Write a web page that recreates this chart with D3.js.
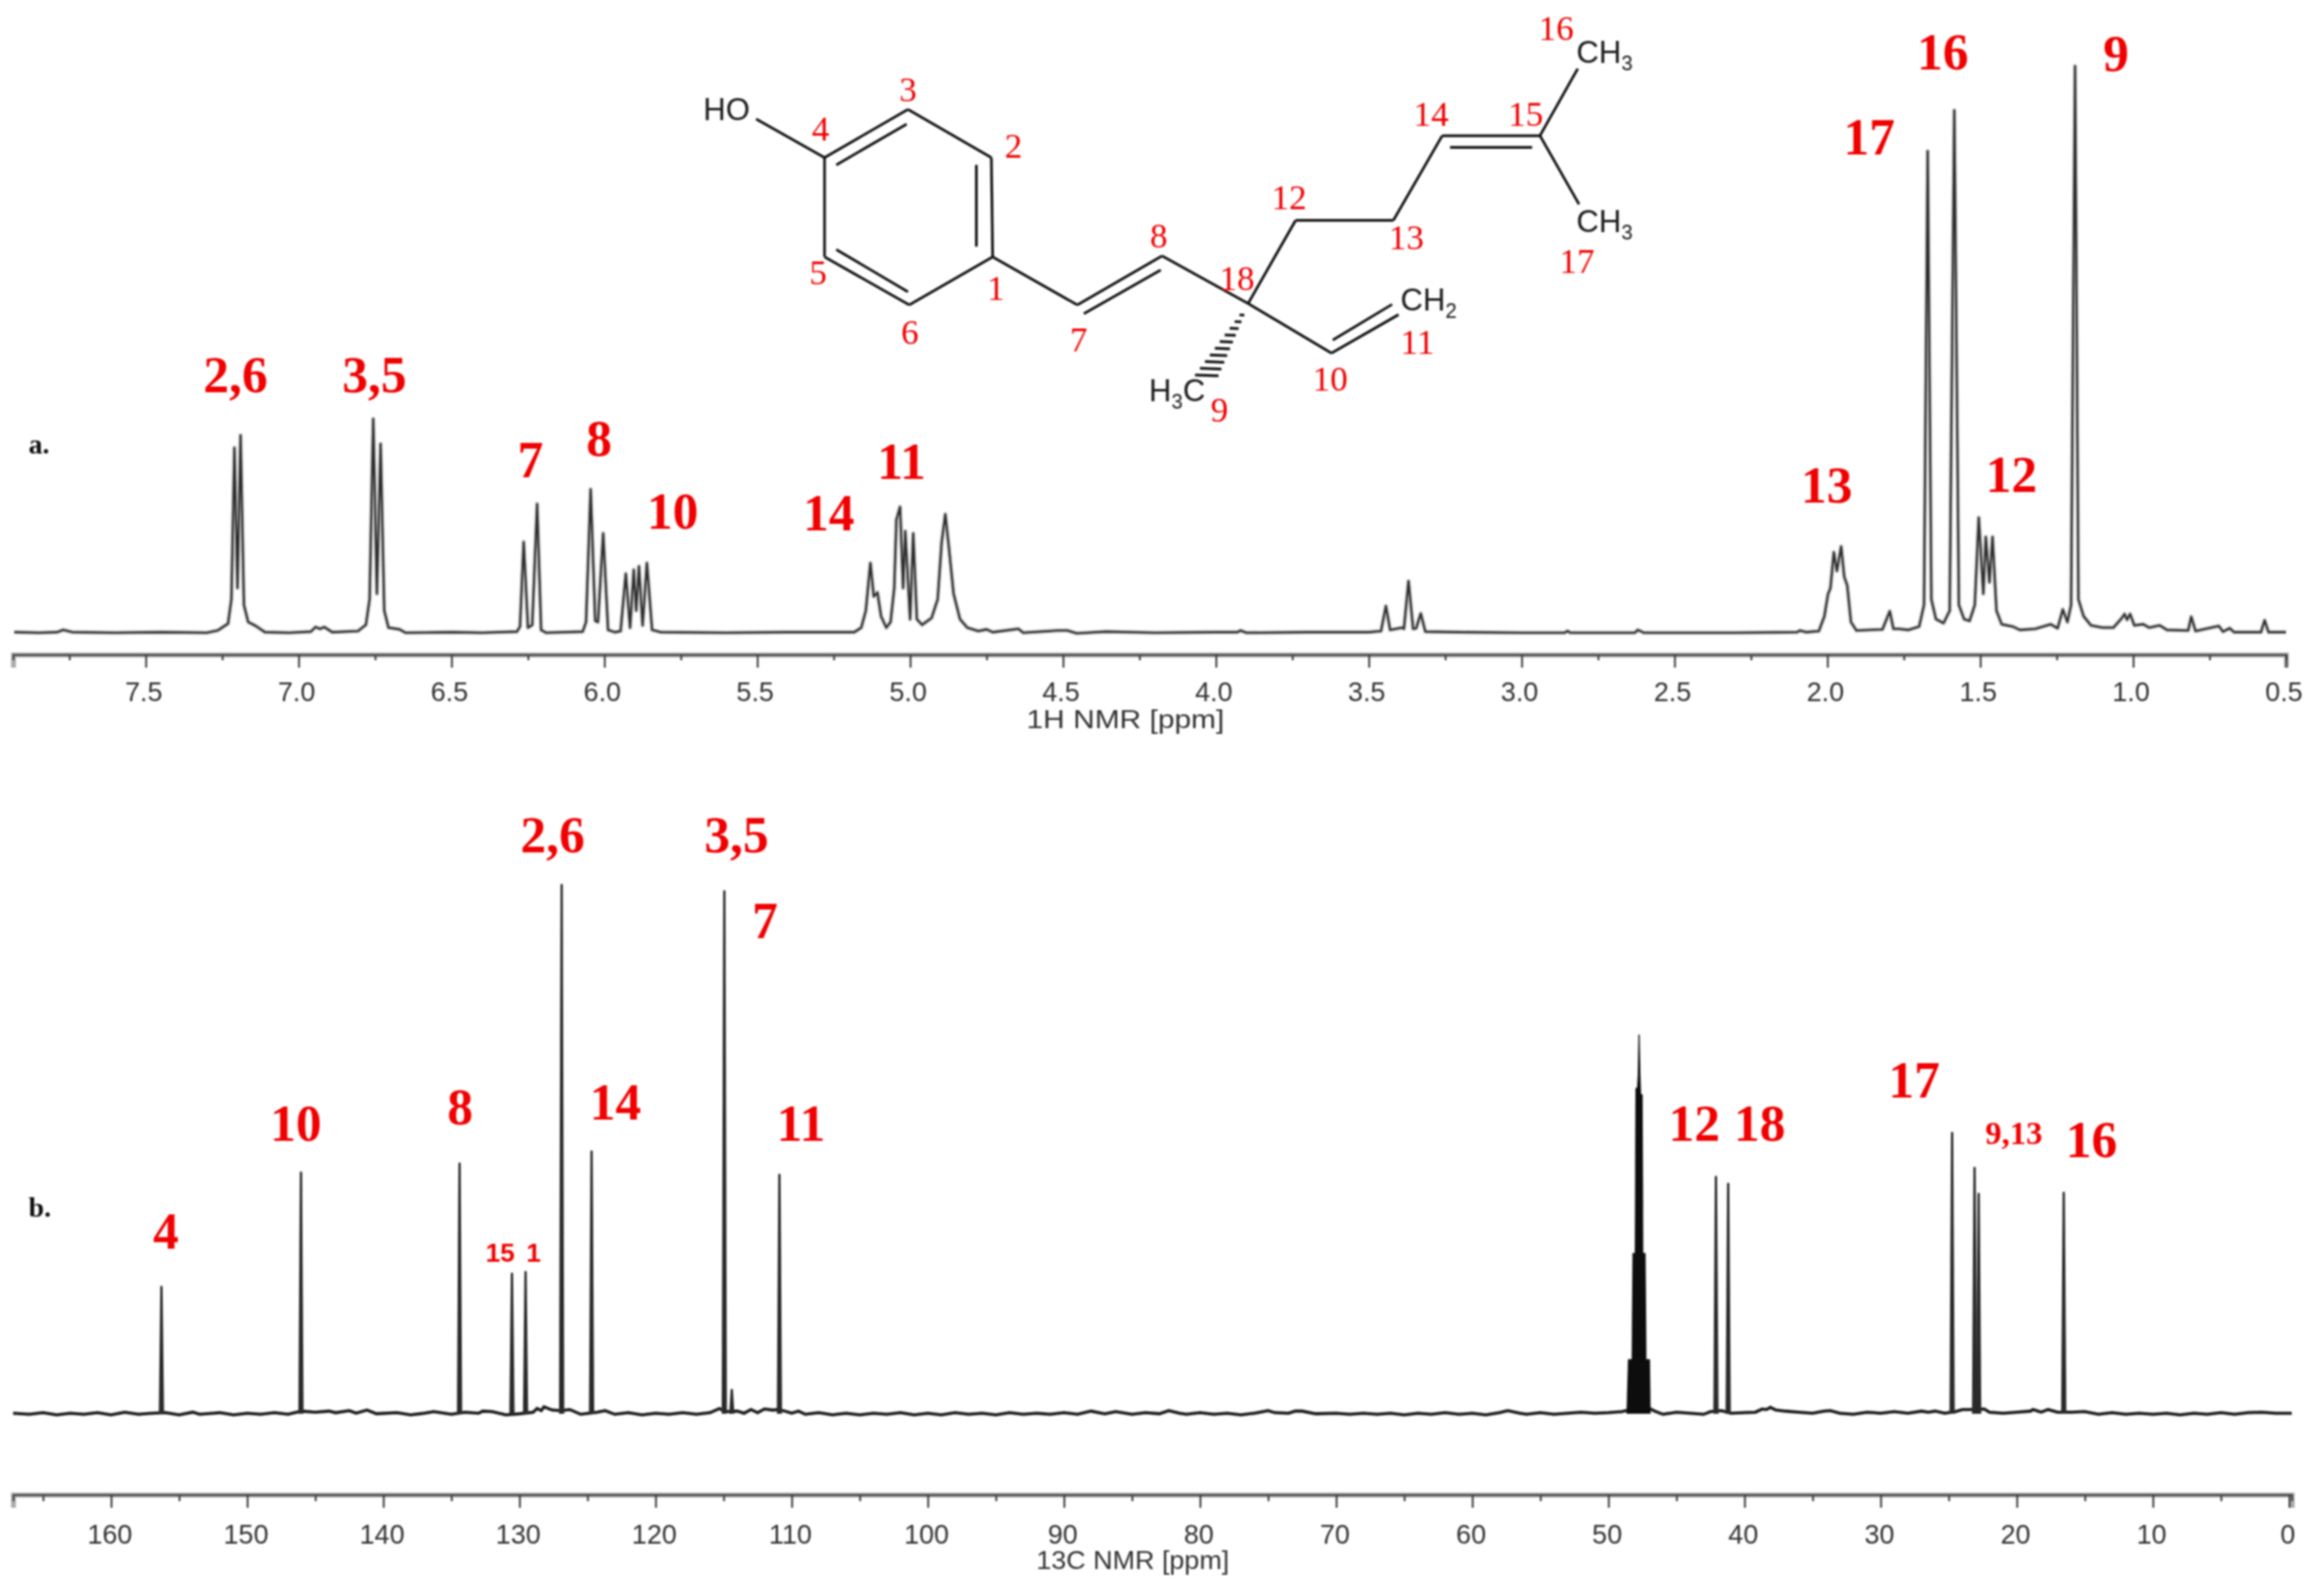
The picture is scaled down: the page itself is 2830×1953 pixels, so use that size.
<!DOCTYPE html>
<html><head><meta charset="utf-8">
<script src="https://cdn.jsdelivr.net/npm/d3@7"></script>
<style>html,body{margin:0;padding:0;background:#fff}svg{display:block}</style>
</head><body><svg id="c" width="2830" height="1953"></svg>
<script>
// ---------- 1H NMR trace: [ppm, intensity] ----------
const protonTrace = [[7.93,.2],[7.85,.1],[7.79,.2],[7.77,.6],[7.74,.2],[7.6,.1],[7.45,.2],[7.3,.1],[7.265,.5],[7.231,1.7],[7.22,6],[7.21,32.7],[7.2,8],[7.19,34.9],[7.179,5],[7.165,2],[7.14,1.3],[7.11,.2],[7.03,.1],[6.96,.3],[6.945,1.1],[6.93,.8],[6.916,1.1],[6.89,.2],[6.806,.4],[6.78,1.5],[6.768,6],[6.756,37.8],[6.744,7],[6.732,33.4],[6.72,4],[6.706,1],[6.67,.7],[6.65,.1],[6.5,.2],[6.4,.1],[6.286,.3],[6.276,1.2],[6.264,16.1],[6.25,1],[6.236,1.5],[6.22,22.8],[6.207,.6],[6.19,.1],[6.071,.3],[6.06,2],[6.045,25.4],[6.03,2.2],[6.021,2],[6.004,17.6],[5.988,.6],[5.966,.2],[5.947,.4],[5.93,10.5],[5.916,1],[5.904,11.2],[5.896,4],[5.887,11.8],[5.875,1.4],[5.861,12.4],[5.844,.6],[5.816,.2],[5.6,.1],[5.4,.2],[5.183,.2],[5.16,1],[5.145,4],[5.13,12.4],[5.119,6.5],[5.107,7.2],[5.095,3],[5.078,1],[5.064,2],[5.052,8],[5.045,20],[5.033,22.3],[5.023,8],[5.016,18],[5,2.5],[4.99,17.6],[4.978,2.5],[4.961,1.5],[4.93,2.7],[4.91,6],[4.897,16],[4.885,21],[4.873,15],[4.858,7],[4.837,2.5],[4.813,1],[4.777,.4],[4.75,.7],[4.73,.2],[4.646,.8],[4.63,.1],[4.515,.5],[4.486,.5],[4.455,0],[4.36,.3],[4.2,.1],[4,.2],[3.93,.2],[3.92,.5],[3.9,.1],[3.7,.2],[3.5,.2],[3.46,.4],[3.444,4.8],[3.43,.6],[3.39,1],[3.385,.8],[3.37,9.2],[3.355,.8],[3.345,.9],[3.33,3.5],[3.315,.3],[3.2,.2],[3,.1],[2.86,.1],[2.85,.4],[2.84,.1],[2.63,.1],[2.62,.6],[2.6,.1],[2.3,.1],[2.1,.2],[2.09,.5],[2.07,.2],[2.028,.4],[2.01,3],[1.998,6.9],[1.99,8],[1.979,14.3],[1.969,11],[1.955,15.3],[1.945,10],[1.935,8.4],[1.923,2],[1.905,.5],[1.82,.7],[1.796,3.9],[1.784,.8],[1.767,.8],[1.735,.6],[1.7,1.2],[1.684,5],[1.672,85],[1.66,6],[1.645,2.5],[1.62,1.8],[1.6,4],[1.585,92.2],[1.57,5],[1.553,2.5],[1.535,2.2],[1.518,5],[1.505,20.4],[1.49,7],[1.482,17],[1.47,9],[1.46,17],[1.447,4],[1.43,1.6],[1.394,1.2],[1.37,.6],[1.32,.8],[1.27,1.6],[1.247,.9],[1.23,4.2],[1.215,2],[1.203,5],[1.19,100],[1.179,6],[1.162,3],[1.138,1.4],[1.1,1],[1.065,1],[1.04,2.5],[1.028,3.4],[1.02,2.4],[1.01,3.4],[.996,1.4],[.967,1.6],[.947,1],[.913,1.4],[.889,.6],[.82,.5],[.81,2.9],[.796,.4],[.72,1.3],[.706,.3],[.684,.9],[.67,.2],[.582,.2],[.57,2.3],[.557,.2],[.5,.2]];

// ---------- 13C NMR peaks: ppm, intensity ----------
const carbonPeakPpm = [156.3,146.05,134.4,130.55,129.55,126.9,124.7,114.95,114.4,110.9,42.1,41.2,24.75,23.1,22.8,16.55];
const carbonPeakInt = [24,45.6,47.3,26.5,26.8,100,49.6,98.8,4.5,45.2,44.8,43.5,53.1,46.5,41.6,41.8];
const solventTrace = [[48.63,0],[48.52,10.2],[48.25,10.2],[48.19,30.3],[48.02,30.3],[47.97,61.5],[47.86,61.5],[47.8,64],[47.75,71.7],[47.69,64],[47.64,60.3],[47.53,60.3],[47.48,30.3],[47.31,30.3],[47.25,10.2],[46.99,10.2],[46.94,0]];
const carbonBaseline = [[167.2,.1],[166,-.1],[165,.2],[164,-.2],[163,.1],[162,-.1],[161,.2],[160,-.2],[159,.3],[158,-.1],[157,.1],[156,.2],[155,-.2],[154,.3],[153.5,-.1],[152,.2],[151,-.2],[150,.1],[149,-.1],[148,.2],[147,-.1],[146,.5],[145,.3],[144,.5],[143.5,.2],[142.5,.6],[142,.1],[141.2,.7],[140.5,.0],[139,.2],[138,-.2],[137,.1],[136.3,.4],[135,-.1],[134,.3],[133,.1],[132.7,.5],[132,.4],[131,-.2],[130,0],[129,.3],[128.7,1],[128.4,.6],[128.2,1.3],[127.6,.7],[127,.6],[126.3,.8],[125.5,-.1],[124.3,.3],[123.7,.6],[123,-.1],[122,.2],[121,-.2],[120,.1],[119,-.1],[118,.2],[117,-.1],[116,.2],[115.3,1],[115,.5],[114.6,.4],[114,.5],[113.5,.1],[113,.8],[112.5,.2],[112,.9],[111.4,.7],[111,.8],[110.5,.5],[110,.1],[109.5,.5],[109,-.1],[108,.2],[107,-.2],[106,.1],[105,-.2],[104,.1],[103,-.1],[102,.2],[101,-.2],[100,.1],[99,-.2],[98,.2],[97,-.1],[96,.1],[95,-.2],[94,.2],[93,-.1],[92,.1],[91,-.1],[90,.2],[89,-.1],[88,.5],[87,.0],[86.2,.4],[85,-.1],[84,.2],[83,0],[82.3,.6],[81.5,.1],[81,-.1],[80,.2],[79,-.1],[78,.1],[77,-.2],[76,.1],[75,.6],[74.5,.2],[73.5,.1],[73,.5],[72.5,.5],[71.5,.0],[70,.1],[69,-.1],[68,.1],[67,-.1],[66,.1],[65,-.2],[64,.1],[63,-.1],[62,.2],[61,-.1],[60,.1],[59,-.2],[58,.2],[57.4,.6],[56.5,.1],[56,-.1],[55,.2],[54,-.1],[53,.1],[52,.3],[51,.1],[50,.2],[49,.4],[48.7,.6],[47,1],[46.6,.5],[46,-.1],[45,.3],[44,.1],[43,-.1],[42.5,.4],[41.7,.6],[41,.1],[40,.2],[39.2,.3],[38.7,.9],[38.4,.8],[38.1,1.2],[37.7,.7],[37,.5],[36,.3],[35,.1],[34.2,.5],[33.7,.6],[33,.1],[32,-.1],[31,.3],[30,.1],[29,.4],[28,.1],[27,.5],[26.5,.3],[26,.5],[25.3,.1],[24.5,.4],[24,.8],[23.5,.8],[22.4,.9],[22,.3],[21,.1],[20,.3],[19,.5],[18.8,.8],[18.2,.3],[17.7,.8],[17,.3],[16,.3],[15,.4],[14,-.1],[13,.2],[12,-.1],[11,.1],[10,-.1],[9,.1],[8,-.2],[7,.1],[6,-.1],[5,.2],[4,-.1],[3,.2],[2,.3],[1,.1],[-.2,.1]];

// ---------- axes ----------
const protonMajor = [7.5,7,6.5,6,5.5,5,4.5,4,3.5,3,2.5,2,1.5,1,.5];
const protonMinor = [7.75,7.25,6.75,6.25,5.75,5.25,4.75,4.25,3.75,3.25,2.75,2.25,1.75,1.25,.75];
const carbonMajor = [160,150,140,130,120,110,100,90,80,70,60,50,40,30,20,10,0];
const carbonMinor = [165,155,145,135,125,115,105,95,85,75,65,55,45,35,25,15,5];

// ---------- assignments ----------
const protonLabelText = ["2,6","3,5","7","8","10","14","11","17","16","9","13","12"];
const protonLabelAt = [[288,480],[458,480],[649,584],[733,558],[823,647],[1014,649],[1103,586],[2287,189],[2377,85],[2589,87],[2235,615],[2461,602]];
const carbonLabelText = ["2,6","3,5","7","14","8","10","11","4","12","18","17","16"];
const carbonLabelAt = [[676,1043],[901,1043],[936,1148],[753,1370],[563,1376],[362,1396],[980,1396],[203,1528],[2073,1396],[2153,1396],[2342,1343],[2559,1416]];

// ---------- structure, in sketch units ----------
const atoms = {c1:[520,880],c2:[518,540],c3:[390,375],c4:[262,540],c5:[262,880],c6:[392,1045],c7:[650,1045],c8:[780,877],c18:[912,1040],c10:[1040,1210],c12:[985,755],c13:[1135,755],c14:[1210,465],c15:[1360,465],o:[157,408],m16:[1418,235],m17:[1420,700],c11:[1143,1078]};
const bonds = [["c1","c2"],["c2","c3"],["c3","c4"],["c4","c5"],["c5","c6"],["c6","c1"],["c1","c7"],["c7","c8"],["c8","c18"],["c18","c10"],["c10","c11"],["c18","c12"],["c12","c13"],["c13","c14"],["c14","c15"],["c15","m16"],["c15","m17"],["c4","o"]];
const innerBonds = [[[280,565],[388,425]],[[495,565],[495,845]],[[280,855],[390,1000]],[[660,1075],[778,925]],[[1222,505],[1348,505]],[[1042,1165],[1133,1043]]];
const hashFractions = [.04,.14,.24,.34,.44,.54,.64,.74,.84,.94];
const hashFrom = [905,1070], hashTo = [845,1300];
const atomLabelText = ["3","2","4","1","5","6","7","8","18","12","13","14","15","16","17","11","10","9"];
const atomLabelAt = [[390,347],[552,540],[256,482],[525,1027],[252,975],[393,1178],[652,1203],[775,848],[895,995],[975,718],[1155,853],[1193,430],[1338,430],[1385,137],[1417,935],[1172,1213],[1038,1337],[868,1445]];

const svg = d3.select("#c");
const defs = svg.append("defs");
defs.append("filter").attr("id","soft")
  .attr("filterUnits","userSpaceOnUse").attr("x",0).attr("y",0).attr("width",2830).attr("height",1953)
  .append("feGaussianBlur").attr("stdDeviation",0.8);
const root = svg.append("g").attr("filter","url(#soft)");
const SANS = "'Liberation Sans',Arial,sans-serif", SERIF = "'Liberation Serif',serif";

function drawAxis(xs, major, minor, y, fmt, majorLen, minorLen, dx){
  const a = root.append("g").attr("transform",`translate(0,${y})`);
  a.call(d3.axisBottom(xs).tickValues(major).tickSize(majorLen).tickPadding(0).tickFormat(fmt));
  a.select(".domain").attr("stroke","#666").attr("stroke-width",6).attr("stroke-opacity",.55);
  const b = root.append("g").attr("transform",`translate(0,${y})`);
  b.call(d3.axisBottom(xs).tickValues(minor).tickSize(minorLen).tickFormat(""));
  b.select(".domain").attr("stroke","#333").attr("stroke-width",2);
  root.selectAll(".tick line").attr("stroke","#444").attr("stroke-width",2.4);
  a.selectAll("text").attr("font-family",SANS).attr("font-size",33).attr("fill","#333")
    .attr("dy",0).attr("y",dx.ly).attr("dx",dx.x);
}

// 1H
const xH = d3.scaleLinear([7.934,.5],[16,2797]);
const yH = d3.scaleLinear([0,100],[775,81]);
const protonLine = d3.line().x(d=>xH(d[0])).y(d=>yH(d[1]));
root.append("path").datum(protonTrace).attr("d",protonLine)
  .attr("fill","none").attr("stroke","#888").attr("stroke-width",5.5).attr("stroke-opacity",.45).attr("stroke-linejoin","round");
root.append("path").datum(protonTrace).attr("d",protonLine)
  .attr("fill","none").attr("stroke","#2e2e2e").attr("stroke-width",2.6).attr("stroke-linejoin","round");
drawAxis(xH,protonMajor,protonMinor,801,d3.format(".1f"),16,7,{ly:57,x:-3});
root.append("text").text("1H NMR [ppm]").attr("x",1256).attr("y",891)
  .attr("textLength",242).attr("lengthAdjust","spacingAndGlyphs")
  .attr("font-family",SANS).attr("font-size",32).attr("fill","#333");

// 13C
const xC = d3.scaleLinear([167.2,-.2],[16,2804]);
const yC = d3.scaleLinear([0,100],[1730,1083]);
const lineC = d3.line().x(d=>xC(d[0])).y(d=>yC(d[1]));
root.append("path").datum(carbonBaseline).attr("d",lineC)
  .attr("fill","none").attr("stroke","#1e1e1e").attr("stroke-width",3.8);
const peakFoot = 0.11;
root.append("g").selectAll("path").data(d3.zip(carbonPeakPpm,carbonPeakInt)).join("path")
  .attr("d",d=>lineC([[d[0]+peakFoot,0],[d[0],d[1]],[d[0]-peakFoot,0]]))
  .attr("fill","#2a2a2a").attr("stroke","#2a2a2a").attr("stroke-width",2.8).attr("stroke-linejoin","round");
root.append("path").datum(solventTrace).attr("d",lineC)
  .attr("fill","#111").attr("stroke","#111").attr("stroke-width",1.5);
drawAxis(xC,carbonMajor,carbonMinor,1829,d3.format("d"),16,8,{ly:60,x:-2});
root.append("text").text("13C NMR [ppm]").attr("x",1268).attr("y",1920)
  .attr("textLength",236).attr("lengthAdjust","spacingAndGlyphs")
  .attr("font-family",SANS).attr("font-size",32).attr("fill","#333");

// panel letters
root.selectAll(".panel").data([["a.",35,555],["b.",35,1489]]).join("text")
  .text(d=>d[0]).attr("x",d=>d[1]).attr("y",d=>d[2])
  .attr("font-family",SERIF).attr("font-weight",700).attr("font-size",34).attr("fill","#111");

// peak assignments
function redLabels(texts, at, size, weight){
  root.append("g").selectAll("text").data(d3.zip(texts,at)).join("text")
    .text(d=>d[0]).attr("x",d=>d[1][0]).attr("y",d=>d[1][1])
    .attr("text-anchor","middle").attr("font-family",SERIF)
    .attr("font-size",size).attr("font-weight",weight).attr("fill","#f00000");
}
redLabels(protonLabelText,protonLabelAt,63,700);
redLabels(carbonLabelText,carbonLabelAt,63,700);
redLabels(["9,13"],[[2464,1400]],40,700);
root.selectAll(".small").data([["15",612,1544],["1",653,1544]]).join("text")
  .text(d=>d[0]).attr("x",d=>d[1]).attr("y",d=>d[2]).attr("text-anchor","middle")
  .attr("font-family",SANS).attr("font-weight",700).attr("font-size",32).attr("fill","#f00000");

// structure
const mx = d3.scaleLinear([0,1568],[800,2050]);
const my = d3.scaleLinear([0,1568],[0,560]);
const mol = root.append("g");
const seg = (a,b)=>`M${mx(a[0])},${my(a[1])}L${mx(b[0])},${my(b[1])}`;
mol.append("g").selectAll("path").data(bonds).join("path").attr("d",d=>seg(atoms[d[0]],atoms[d[1]]));
mol.append("g").selectAll("path").data(innerBonds).join("path").attr("d",d=>seg(d[0],d[1]));
mol.append("g").selectAll("path").data(hashFractions).join("path").attr("d",t=>{
  const c=[hashFrom[0]+(hashTo[0]-hashFrom[0])*t,hashFrom[1]+(hashTo[1]-hashFrom[1])*t], h=3+t*16;
  return seg([c[0]-h,c[1]-h*.09],[c[0]+h,c[1]+h*.09]);
});
mol.selectAll("path").attr("stroke","#111").attr("stroke-width",3.2).attr("fill","none");

function chem(parts, left, base){
  const t = mol.append("text").attr("x",mx(left)).attr("y",my(base))
    .attr("font-family",SANS).attr("font-size",38).attr("fill","#1a1a1a");
  parts.forEach(p=>{
    t.append("tspan").text(p[0]).attr("font-size",p[1]?25:38).attr("dy",p[1]?9:(p[2]||0));
  });
}
chem([["HO"]],76,412);
chem([["CH"],["3",1]],1416,215);
chem([["CH"],["3",1]],1416,795);
chem([["CH"],["2",1]],1146,1065);
chem([["H"],["3",1],["C",0,-9]],760,1375);
redLabels(atomLabelText,atomLabelAt.map(p=>[mx(p[0]),my(p[1])]),43,400);
</script></body></html>
